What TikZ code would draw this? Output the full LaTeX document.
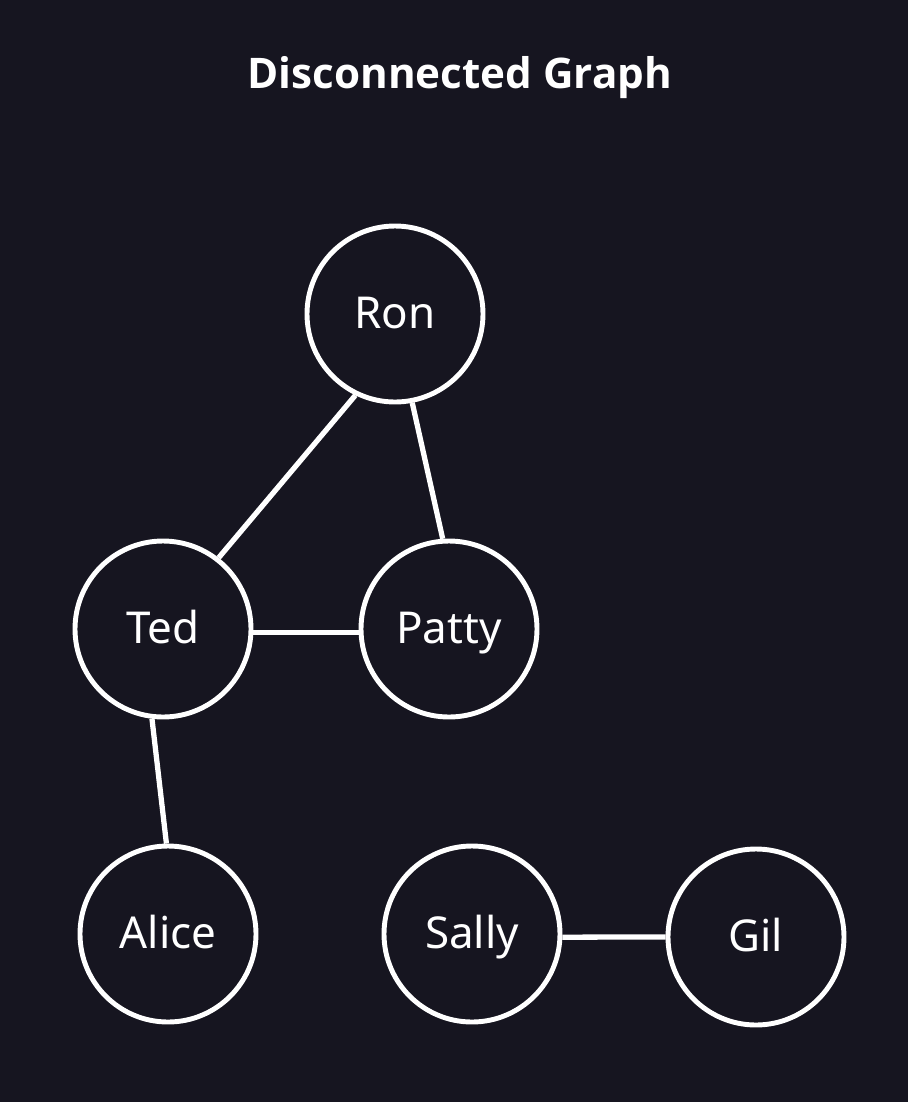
\documentclass[tikz,border=0pt]{standalone}
\usepackage{fontspec}
\setmainfont{Noto Sans}
\newfontfamily\titlefont{Open Sans}
\usetikzlibrary{positioning}
\definecolor{bgdark}{RGB}{22,21,32}
\tikzstyle{person} = [
    circle,
    minimum size=1.76cm,
    inner sep=0pt,
    draw=white,
    line width=1.4pt,
    text=white,
    text height=0.85em,
    text depth=0pt,
    font=\fontsize{12.5}{15}\selectfont
]
\tikzstyle{link} = [
    draw=white,
    line width=1.5pt
]

\begin{document}
\begin{tikzpicture}

\fill[bgdark] (0,0) rectangle (9.08,-11.02);
\useasboundingbox (0,0) rectangle (9.08,-11.02);

\node (title) [text=white, font=\titlefont\bfseries\fontsize{12}{16}\selectfont] at (4.6,-0.78) {Disconnected Graph};

\node (ron)   [person] at (3.95,-3.14) {Ron};
\node (ted)   [person] at (1.63,-6.29) {Ted};
\node (patty) [person] at (4.49,-6.29) {Patty};
\node (alice) [person] at (1.68,-9.34) {Alice};
\node (sally) [person] at (4.72,-9.34) {Sally};
\node (gil)   [person] at (7.56,-9.37) {Gil};

\draw[link] (ron.244) -- (ted.52);
\draw[link] (ron.281) -- (patty.94);
\draw[link] (ted.-2) -- (patty.182);
\draw[link] (ted.263) -- (alice.91);
\draw[link] (sally.-2.5) -- (gil.180);

\end{tikzpicture}
\end{document}
